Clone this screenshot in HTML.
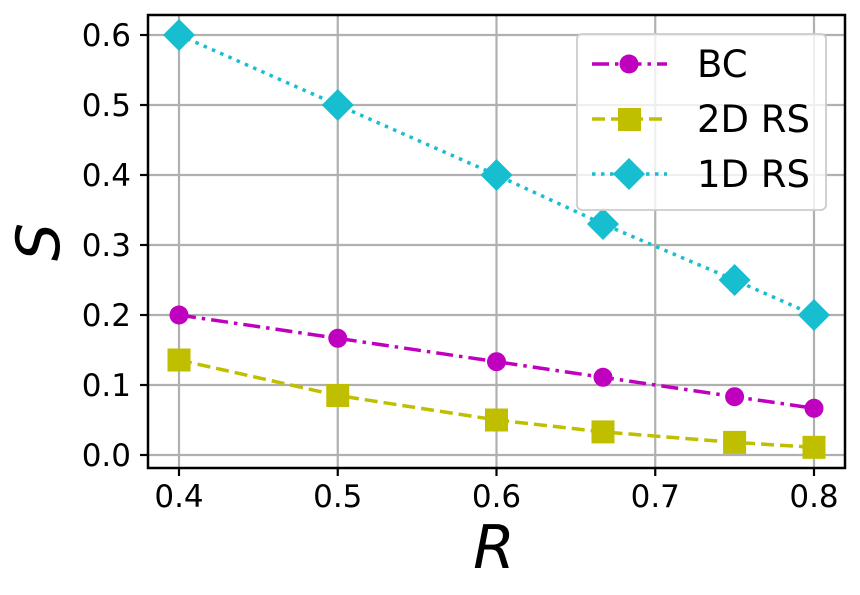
<!DOCTYPE html>
<html><head><meta charset="utf-8"><style>body{margin:0;background:#fff}svg{display:block}</style></head><body>
<svg width="860" height="595" viewBox="0 0 860 595" xmlns="http://www.w3.org/2000/svg" font-family="DejaVu Sans, Liberation Sans, sans-serif">
<g stroke="#b0b0b0" stroke-width="2.2">
<line x1="179" y1="15" x2="179" y2="468"/><line x1="337.75" y1="15" x2="337.75" y2="468"/><line x1="496.5" y1="15" x2="496.5" y2="468"/><line x1="655.25" y1="15" x2="655.25" y2="468"/><line x1="814" y1="15" x2="814" y2="468"/>
<line x1="148" y1="455" x2="845" y2="455"/><line x1="148" y1="385" x2="845" y2="385"/><line x1="148" y1="315" x2="845" y2="315"/><line x1="148" y1="245" x2="845" y2="245"/><line x1="148" y1="175" x2="845" y2="175"/><line x1="148" y1="105" x2="845" y2="105"/><line x1="148" y1="35" x2="845" y2="35"/>
</g>
<polyline fill="none" stroke="#17becf" stroke-width="3.5" stroke-dasharray="3.5,5.5" points="179,35 337.75,105 496.5,175 603,224 734.6,280 814,315"/>
<g fill="#17becf">
<polygon points="179,19 195,35 179,51 163,35"/><polygon points="337.75,89 353.75,105 337.75,121 321.75,105"/><polygon points="496.5,159 512.5,175 496.5,191 480.5,175"/><polygon points="603,208 619,224 603,240 587,224"/><polygon points="734.6,264 750.6,280 734.6,296 718.6,280"/><polygon points="814,299 830,315 814,331 798,315"/>
</g>
<polyline fill="none" stroke="#bf00bf" stroke-width="3.5" stroke-dasharray="17,6,3.5,6" points="179,315 337.75,338.3 496.5,361.7 603,377.3 734.6,396.7 814,408.3"/>
<g fill="#bf00bf">
<circle cx="179" cy="315" r="9.5"/><circle cx="337.75" cy="338.3" r="9.5"/><circle cx="496.5" cy="361.7" r="9.5"/><circle cx="603" cy="377.3" r="9.5"/><circle cx="734.6" cy="396.7" r="9.5"/><circle cx="814" cy="408.3" r="9.5"/>
</g>
<polyline fill="none" stroke="#bfbf00" stroke-width="3.5" stroke-dasharray="13,6" points="179,360 337.75,395.5 496.5,420 603,431.9 734.6,442.4 814,447.3"/>
<g fill="#bfbf00">
<rect x="167.5" y="348.5" width="23" height="23"/><rect x="326.25" y="384" width="23" height="23"/><rect x="485" y="408.5" width="23" height="23"/><rect x="591.5" y="420.4" width="23" height="23"/><rect x="723.1" y="430.9" width="23" height="23"/><rect x="802.5" y="435.8" width="23" height="23"/>
</g>
<rect x="148" y="15" width="697" height="453" fill="none" stroke="#000" stroke-width="2.5"/>
<g stroke="#000" stroke-width="2.2">
<line x1="179" y1="468" x2="179" y2="476"/><line x1="337.75" y1="468" x2="337.75" y2="476"/><line x1="496.5" y1="468" x2="496.5" y2="476"/><line x1="655.25" y1="468" x2="655.25" y2="476"/><line x1="814" y1="468" x2="814" y2="476"/>
<line x1="140" y1="455" x2="148" y2="455"/><line x1="140" y1="385" x2="148" y2="385"/><line x1="140" y1="315" x2="148" y2="315"/><line x1="140" y1="245" x2="148" y2="245"/><line x1="140" y1="175" x2="148" y2="175"/><line x1="140" y1="105" x2="148" y2="105"/><line x1="140" y1="35" x2="148" y2="35"/>
</g>
<g font-size="31" fill="#000" text-anchor="middle">
<text x="179" y="507">0.4</text><text x="337.75" y="507">0.5</text><text x="496.5" y="507">0.6</text><text x="655.25" y="507">0.7</text><text x="814" y="507">0.8</text>
</g>
<g font-size="31" fill="#000" text-anchor="end">
<text x="131" y="466">0.0</text><text x="131" y="396">0.1</text><text x="131" y="326">0.2</text><text x="131" y="256">0.3</text><text x="131" y="186">0.4</text><text x="131" y="116">0.5</text><text x="131" y="46">0.6</text>
</g>
<text x="494" y="568" font-size="60" font-style="italic" text-anchor="middle">R</text>
<text transform="translate(59,242) rotate(-90)" font-size="60" font-style="italic" text-anchor="middle">S</text>
<rect x="577" y="34" width="249" height="176" rx="5" fill="#fff" fill-opacity="0.8" stroke="#cccccc" stroke-width="1.8"/>
<line x1="592" y1="64" x2="667" y2="64" stroke="#bf00bf" stroke-width="3.5" stroke-dasharray="17,6,3.5,6"/>
<circle cx="629" cy="64" r="9.5" fill="#bf00bf"/>
<line x1="592" y1="119" x2="667" y2="119" stroke="#bfbf00" stroke-width="3.5" stroke-dasharray="13,6"/>
<rect x="618" y="108" width="23" height="23" fill="#bfbf00"/>
<line x1="592" y1="174" x2="667" y2="174" stroke="#17becf" stroke-width="3.5" stroke-dasharray="3.5,5.5"/>
<polygon points="629,158 645,174 629,190 613,174" fill="#17becf"/>
<g font-size="37" fill="#000">
<text x="697" y="77">BC</text><text x="697" y="132">2D RS</text><text x="697" y="187">1D RS</text>
</g>
</svg>
</body></html>
